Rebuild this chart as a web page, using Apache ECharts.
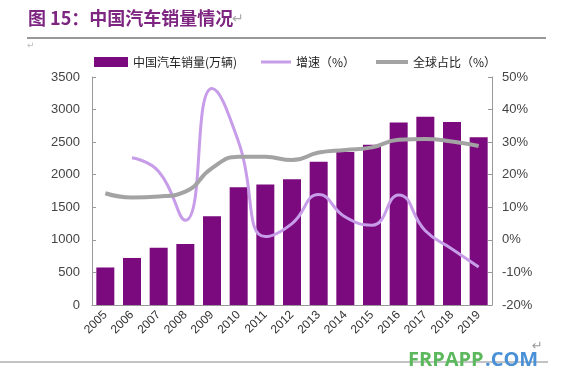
<!DOCTYPE html>
<html>
<head>
<meta charset="utf-8">
<script src="https://cdn.jsdelivr.net/npm/echarts@6/dist/echarts.min.js"></script>
<style>html,body{margin:0;padding:0;background:#fff;}#c{width:567px;height:387px;}</style>
</head>
<body>
<div id="c"></div>
<script>
const years = ['2005','2006','2007','2008','2009','2010','2011','2012','2013','2014','2015','2016','2017','2018','2019'];
const sales = [576, 722, 879, 938, 1364, 1806, 1851, 1931, 2198, 2349, 2460, 2803, 2888, 2808, 2577];
const growth = [null, 25.2, 21.0, 6.0, 46.5, 30.0, 1.0, 5.0, 13.9, 7.0, 4.5, 13.8, 2.8, -2.8, -8.3];
const share = [14.3, 13.0, 13.3, 14.8, 22.0, 25.5, 25.5, 24.5, 26.8, 27.6, 28.4, 30.7, 31.0, 30.2, 28.8];
const leftTicks = [0, 3500, 500];
const rightTicks = [-20, 50, 10];
const seriesNames = ['中国汽车销量(万辆)', '增速（%）', '全球占比（%）'];
const titleText = '图 15：中国汽车销量情况';

const chart = echarts.init(document.getElementById('c'));
const font = '"Liberation Sans", "Noto Sans CJK SC", sans-serif';
const legendText = { fontSize: 12, color: '#222', fontFamily: '"Noto Sans CJK SC", sans-serif' };
chart.setOption({
  animation: false,
  backgroundColor: '#fff',
  textStyle: { fontFamily: font },
  graphic: [
    { type: 'text', left: 28, top: 9, style: { text: titleText, font: 'bold 18px "Noto Sans CJK SC", sans-serif', fill: '#7d2580' } },
    { type: 'text', left: 232, top: 12, style: { text: '↵', font: '14px "DejaVu Sans"', fill: '#aaa' } },
    { type: 'line', shape: { x1: 27, y1: 38, x2: 546, y2: 38 }, style: { stroke: '#777', lineWidth: 1.5 } },
    { type: 'text', left: 27, top: 41, style: { text: '↵', font: '9px "DejaVu Sans"', fill: '#bbb' } },
    { type: 'line', shape: { x1: 0, y1: 362, x2: 548, y2: 362 }, style: { stroke: '#888', lineWidth: 1.2 } },
    { type: 'text', left: 532, top: 340, style: { text: '↵', font: '13px "DejaVu Sans"', fill: '#999' } },
    { type: 'text', left: 408, top: 350, style: { text: 'FRPAPP', font: 'bold 20px "Open Sans", sans-serif', fill: '#5cb85c' } },
    { type: 'text', left: 485, top: 350, style: { text: '.COM', font: 'bold 20px "Open Sans", sans-serif', fill: '#4a90d6' } }
  ],
  legend: [
    { top: 56, left: 94, itemWidth: 34, itemHeight: 10, itemGap: 0, textStyle: legendText, padding: 0,
      data: [{ name: seriesNames[0], icon: 'rect' }] },
    { top: 56, left: 261, itemWidth: 30, itemHeight: 3, textStyle: legendText, padding: 0,
      data: [{ name: seriesNames[1], icon: 'rect' }] },
    { top: 56, left: 376, itemWidth: 32, itemHeight: 4, textStyle: legendText, padding: 0,
      data: [{ name: seriesNames[2], icon: 'rect' }] }
  ],
  grid: { left: 92, right: 75, top: 77, bottom: 82 },
  xAxis: {
    type: 'category', data: years,
    axisLine: { lineStyle: { color: '#999' } },
    axisTick: { inside: true, length: 4, lineStyle: { color: '#999' } },
    axisLabel: { rotate: 45, fontSize: 12, color: '#333', margin: 8 }
  },
  yAxis: [
    {
      type: 'value', min: leftTicks[0], max: leftTicks[1], interval: leftTicks[2],
      splitLine: { show: false },
      axisLine: { show: true, lineStyle: { color: '#999' } },
      axisTick: { show: true, inside: true, length: 4, lineStyle: { color: '#999' } },
      axisLabel: { fontSize: 13, color: '#444', margin: 12, formatter: v => String(v) }
    },
    {
      type: 'value', min: rightTicks[0], max: rightTicks[1], interval: rightTicks[2],
      splitLine: { show: false },
      axisLine: { show: true, lineStyle: { color: '#999' } },
      axisTick: { show: true, inside: true, length: 4, lineStyle: { color: '#999' } },
      axisLabel: { fontSize: 13, color: '#444', margin: 10, formatter: '{value}%' }
    }
  ],
  series: [
    { name: seriesNames[0], type: 'bar', data: sales, barWidth: 18, itemStyle: { color: '#7b0a7e' } },
    { name: seriesNames[1], type: 'line', yAxisIndex: 1, data: growth, smooth: 0.5, symbol: 'none',
      lineStyle: { width: 3, color: '#c79ce8' }, itemStyle: { color: '#c79ce8' } },
    { name: seriesNames[2], type: 'line', yAxisIndex: 1, data: share, smooth: 0.5, symbol: 'none',
      lineStyle: { width: 4, color: '#a3a3a3' }, itemStyle: { color: '#a3a3a3' } }
  ]
});
</script>
</body>
</html>
